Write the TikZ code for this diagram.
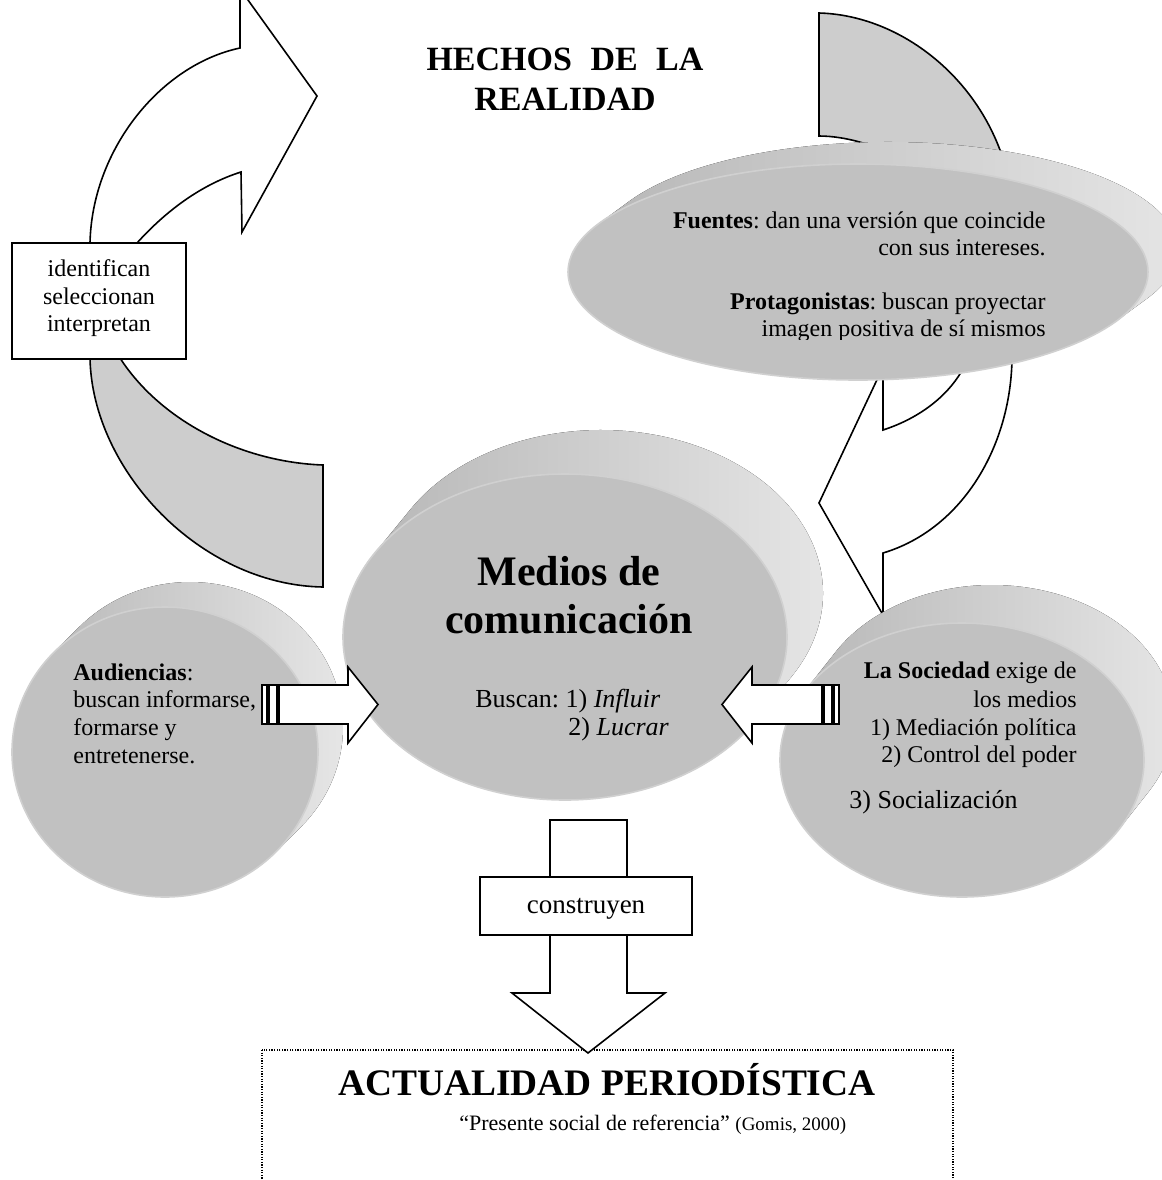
\documentclass[tikz,border=0pt]{standalone}
\usepackage{fontspec}
\setmainfont{Liberation Serif}
\frenchspacing
\definecolor{arrowgrey}{HTML}{CDCDCD}
\definecolor{faceg}{HTML}{C1C1C1}
\definecolor{rimg}{HTML}{D0D0D0}
\definecolor{extL}{HTML}{B2B2B2}
\definecolor{extM}{HTML}{9C9C9C}
\definecolor{extR}{HTML}{E8E8E8}

% a flat disc seen in perspective: the swept back part (hull of the face and
% its translate), then the front face.  #1,#2 centre, #3,#4 radii, #5,#6 depth
\newcommand\discbody[6]{%
  \pgfmathsetmacro\tza{atan2(-(#4)*(#5),(#3)*(#6))}%
  \pgfmathsetmacro\tzb{\tza+180}%
  \pgfmathsetmacro\tzc{\tza+360}%
  \fill[extrude] ({#1+(#5)+(#3)*cos(\tza)},{#2+(#6)+(#4)*sin(\tza)})
     arc[start angle=\tza, end angle=\tzb, x radius=#3, y radius=#4]
     -- ({#1+(#3)*cos(\tzb)},{#2+(#4)*sin(\tzb)})
     arc[start angle=\tzb, end angle=\tzc, x radius=#3, y radius=#4] -- cycle;
  \path[face] (#1,#2) ellipse [x radius=#3, y radius=#4];
}

\begin{document}
\begin{tikzpicture}[x=0.5pt,y=-0.5pt,
  outline/.style={draw=black, line width=0.8pt, line join=miter},
  whitefill/.style={outline, fill=white},
  greyfill/.style={outline, fill=arrowgrey},
  extrude/.style={left color=extL, middle color=extM, right color=extR},
  face/.style={fill=faceg, draw=rimg, line width=0.8pt},
  labelbox/.style={draw=black, line width=0.9pt, fill=white, inner sep=0pt},
  txt/.style={inner sep=0pt, font=\fontsize{12}{14}\selectfont},
  big/.style={inner sep=0pt, font=\fontsize{21}{24}\selectfont\bfseries},
  dotbox/.style={draw=black, line width=0.6pt, dash pattern=on 0.6pt off 0.7pt},
]
\useasboundingbox (0,0) rectangle (1162,1180);
\clip (0,0) rectangle (1162,1180);

% ---- curved arrow on the left: white head part and grey tail part
\draw[whitefill] (90,250) -- (90,243) .. controls (92,150) and (160,65) .. (240,48)
  -- (240,-10) -- (240.8,-10) -- (317,96) -- (242,232) -- (241,172)
  .. controls (200,185) and (165,212) .. (137,243) -- (133,250) -- cycle;
\draw[greyfill] (122,350) -- (90,350) -- (90,358) .. controls (92,470) and (200,585) .. (323,587)
  -- (323,465) .. controls (240,462) and (160,420) .. (120,358) -- cycle;
\node[labelbox, minimum width=87pt, minimum height=58pt] (verbs) at (99,301) {};
\node[txt, anchor=base] (verb1) at (99,276) {identifican};
\node[txt, anchor=base] (verb2) at (99,304) {seleccionan};
\node[txt, anchor=base] (verb3) at (99,331) {interpretan};

% ---- title
\node[inner sep=0pt, font=\fontsize{17}{20}\selectfont\bfseries, anchor=base] (title1) at (565,70)
  {HECHOS\hspace{9.25pt}DE\hspace{9.25pt}LA};
\node[inner sep=0pt, font=\fontsize{17}{20}\selectfont\bfseries, anchor=base] (title2) at (565,110) {REALIDAD};

% ---- curved arrow on the right: grey tail above, white head below
\draw[greyfill] (819,13) -- (819,136) .. controls (845,136) and (880,145) .. (910,165)
  .. controls (940,185) and (958,220) .. (960,262) -- (1013,262)
  .. controls (1014,230) and (1010,190) .. (1000,150)
  .. controls (970,70) and (895,15) .. (819,13) -- cycle;
\draw[whitefill] (883,367) -- (819,503) -- (883,615) -- (883,553)
  .. controls (960,530) and (1010,450) .. (1012,360) -- (1013,258) -- (958,258)
  .. controls (968,300) and (970,340) .. (965,365)
  .. controls (950,395) and (920,418) .. (883,430) -- cycle;

% ---- discs
\discbody{858}{272}{290}{108}{30}{-22}
\discbody{165}{752}{153}{145}{25}{-25}
\discbody{565}{637}{222}{163}{36}{-44}
\discbody{962}{760}{182}{137}{30}{-38}

% ---- texts on the sources disc (last line cut by the text frame)
\begin{scope}
  \clip (560,150) rectangle (1100,339.5);
  \node[txt, anchor=base east] (fuentes1) at (1046,228) {\textbf{Fuentes}: dan una versión que coincide};
  \node[txt, anchor=base east] (fuentes2) at (1046,255) {con sus intereses.};
  \node[txt, anchor=base east] (prota1) at (1046,309) {\textbf{Protagonistas}: buscan proyectar};
  \node[txt, anchor=base east] (prota2) at (1046,336) {imagen positiva de sí mismos};
\end{scope}

% ---- audiences
\node[txt, anchor=base west] (aud1) at (73,680) {\textbf{Audiencias}:};
\node[txt, anchor=base west] (aud2) at (73,707) {buscan informarse,};
\node[txt, anchor=base west] (aud3) at (73,735) {formarse y};
\node[txt, anchor=base west] (aud4) at (73,763) {entretenerse.};

% ---- media
\node[big, anchor=base] (med1) at (569,585) {Medios de};
\node[big, anchor=base] (med2) at (569,633) {comunicación};
\node[inner sep=0pt, font=\fontsize{13}{15}\selectfont, anchor=base west] (busca1) at (475,707) {Buscan: 1) \textit{Influir}};
\node[inner sep=0pt, font=\fontsize{13}{15}\selectfont, anchor=base west] (busca2) at (568,735) {2) \textit{Lucrar}};

% ---- society
\node[txt, anchor=base east] (soc1) at (1077,678) {\textbf{La Sociedad} exige de};
\node[txt, anchor=base east] (soc2) at (1077,707) {los medios};
\node[txt, anchor=base east] (soc3) at (1077,735) {1) Mediación política};
\node[txt, anchor=base east] (soc4) at (1077,762) {2) Control del poder};
\node[inner sep=0pt, font=\fontsize{13}{15}\selectfont, anchor=base west] (soc5) at (849,808) {3) Socialización};

% ---- striped block arrows towards the media disc
\draw[whitefill] (262,685) rectangle (267,724);
\draw[whitefill] (269,685) rectangle (277,724);
\draw[whitefill] (279,685) -- (348,685) -- (348,667) -- (378,704.5) -- (348,743) -- (348,724) -- (279,724) -- cycle;
\draw[whitefill] (839,685) rectangle (834,724);
\draw[whitefill] (832,685) rectangle (824,724);
\draw[whitefill] (822,685) -- (752,685) -- (752,667) -- (722,704.5) -- (752,743) -- (752,724) -- (822,724) -- cycle;

% ---- result frame and downward arrow
\draw[dotbox] (262,1050) rectangle (953,1260);
\node[inner sep=0pt, font=\fontsize{18.7}{22}\selectfont\bfseries, anchor=base] (actual) at (607,1095) {ACTUALIDAD PERIODÍSTICA};
\node[inner sep=0pt, font=\fontsize{11}{13}\selectfont, anchor=base west] (gomis) at (459,1130)
  {“Presente social de referencia” {\fontsize{9.5}{11}\selectfont (Gomis, 2000)}};
\draw[whitefill] (550,820) -- (627,820) -- (627,993) -- (665,993) -- (588,1053) -- (512,993) -- (550,993) -- cycle;
\node[labelbox, minimum width=106pt, minimum height=29pt] (build) at (586,906) {};
\node[inner sep=0pt, font=\fontsize{13.5}{15}\selectfont, anchor=base] (buildtxt) at (586,913) {construyen};
\end{tikzpicture}
\end{document}
